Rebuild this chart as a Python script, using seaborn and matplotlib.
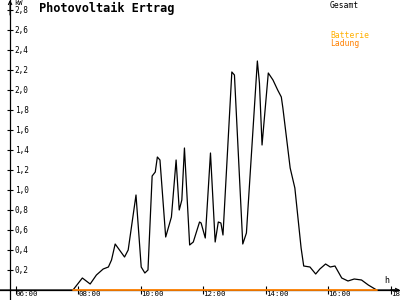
import matplotlib
matplotlib.use("Agg")
import matplotlib.pyplot as plt
import seaborn as sns
import pandas as pd

# ---- data ----
gesamt_time = ["05:30", "07:50", "08:08", "08:23", "08:35", "08:48", "08:58", "09:04",
               "09:11", "09:29", "09:36", "09:51", "10:01", "10:08", "10:14", "10:22",
               "10:28", "10:32", "10:37", "10:48", "10:59", "11:08", "11:14", "11:19",
               "11:24", "11:34", "11:41", "11:53", "11:56", "12:04", "12:14", "12:23",
               "12:29", "12:34", "12:38", "12:55", "13:00", "13:16", "13:23", "13:44",
               "13:48", "13:53", "14:05", "14:14", "14:23", "14:30", "14:33", "14:47",
               "14:56", "15:08", "15:13", "15:25", "15:36", "15:44", "15:55", "16:04",
               "16:13", "16:26", "16:38", "16:50", "17:04", "17:17", "17:33", "18:14"]
gesamt_kw = [0.0, 0.0, 0.12, 0.06, 0.15, 0.21, 0.23, 0.30,
             0.46, 0.33, 0.40, 0.95, 0.23, 0.17, 0.20, 1.14,
             1.18, 1.33, 1.30, 0.53, 0.73, 1.30, 0.80, 0.90,
             1.42, 0.45, 0.48, 0.68, 0.67, 0.52, 1.37, 0.48,
             0.68, 0.67, 0.55, 2.18, 2.15, 0.46, 0.57, 2.29,
             2.07, 1.45, 2.17, 2.10, 2.00, 1.93, 1.82, 1.22,
             1.02, 0.42, 0.24, 0.23, 0.16, 0.21, 0.26, 0.23,
             0.24, 0.12, 0.09, 0.11, 0.10, 0.05, 0.0, 0.0]
ladung_time = ["07:50", "17:33"]
ladung_kw = [0.0, 0.0]

y_ticks = [0.2, 0.4, 0.6, 0.8, 1.0, 1.2, 1.4, 1.6, 1.8, 2.0, 2.2, 2.4, 2.6, 2.8]
y_labels = ["0,2", "0,4", "0,6", "0,8", "1,0", "1,2", "1,4", "1,6", "1,8", "2,0",
            "2,2", "2,4", "2,6", "2,8"]
x_ticks_lbl = ["06:00", "08:00", "10:00", "12:00", "14:00", "16:00", "18:00"]

def to_h(s):
    h, m = s.split(":")
    return int(h) + int(m) / 60.0

df_g = pd.DataFrame({"h": [to_h(t) for t in gesamt_time], "kw": gesamt_kw})
df_l = pd.DataFrame({"h": [to_h(t) for t in ladung_time], "kw": ladung_kw})

sns.set_theme(style="white")
plt.rcParams["font.family"] = ["DejaVu Sans Mono", "DejaVu Sans"]

fig = plt.figure(figsize=(4, 3), dpi=100)
ax = fig.add_axes([0, 0, 1, 1])
ax.set_facecolor("white")

x0, x1 = 5.498, 18.298
ax.set_xlim(x0, x1)
ax.set_ylim(-0.1, 2.9)
yaxis_x = 5.82

sns.lineplot(data=df_g, x="h", y="kw", ax=ax, color="black", lw=0.9, legend=False)
sns.lineplot(data=df_l, x="h", y="kw", ax=ax, color="#FF8000", lw=1.3, legend=False, zorder=5)

for s in ["top", "right"]:
    ax.spines[s].set_visible(False)
ax.spines["left"].set_position(("data", yaxis_x))
ax.spines["bottom"].set_position(("data", 0))
ax.spines["left"].set_color("black")
ax.spines["bottom"].set_color("black")
ax.spines["left"].set_linewidth(0.9)
ax.spines["bottom"].set_linewidth(0.9)

ax.set_yticks(y_ticks)
ax.set_yticklabels(y_labels)
ax.set_xticks([to_h(t) for t in x_ticks_lbl])
ax.set_xticklabels(x_ticks_lbl)
ax.tick_params(axis="y", direction="inout", length=5, width=0.8, pad=-5.8,
               labelsize=5.6, colors="black", left=True)
ax.tick_params(axis="x", direction="inout", length=6, width=0.8, pad=-2.2,
               labelsize=5.4, colors="black", bottom=True)
for lbl in ax.get_yticklabels():
    lbl.set_horizontalalignment("left")
for lbl in ax.get_xticklabels():
    lbl.set_horizontalalignment("left")
ax.set_xlabel("")
ax.set_ylabel("")

# axis arrows
ax.annotate("", xy=(yaxis_x, 2.9), xytext=(yaxis_x, 2.75),
            arrowprops=dict(arrowstyle="->", lw=0.8, color="black",
                            shrinkA=0, shrinkB=0, mutation_scale=6))
ax.annotate("", xy=(x1, 0), xytext=(x1 - 0.3, 0),
            arrowprops=dict(arrowstyle="->", lw=0.8, color="black",
                            shrinkA=0, shrinkB=0, mutation_scale=6))

# texts
fig.text(14 / 400, 1 - 0 / 300, "kW", fontsize=5, va="top", ha="left", color="black")
fig.text(39 / 400, 1 - 2 / 300, "Photovoltaik Ertrag", fontsize=8.6, fontweight="bold",
         va="top", ha="left", color="black")
fig.text(384 / 400, 1 - 276 / 300, "h", fontsize=6, va="top", ha="left", color="black")
fig.text(330 / 400, 1 - 1 / 300, "Gesamt", fontsize=5.8, va="top", ha="left", color="black")
fig.text(330 / 400, 1 - 31 / 300, "Batterie", fontsize=5.8, va="top", ha="left", color="#FFB000")
fig.text(330 / 400, 1 - 39.5 / 300, "Ladung", fontsize=5.8, va="top", ha="left", color="#FF8000")

fig.savefig("out.png", dpi=100)
